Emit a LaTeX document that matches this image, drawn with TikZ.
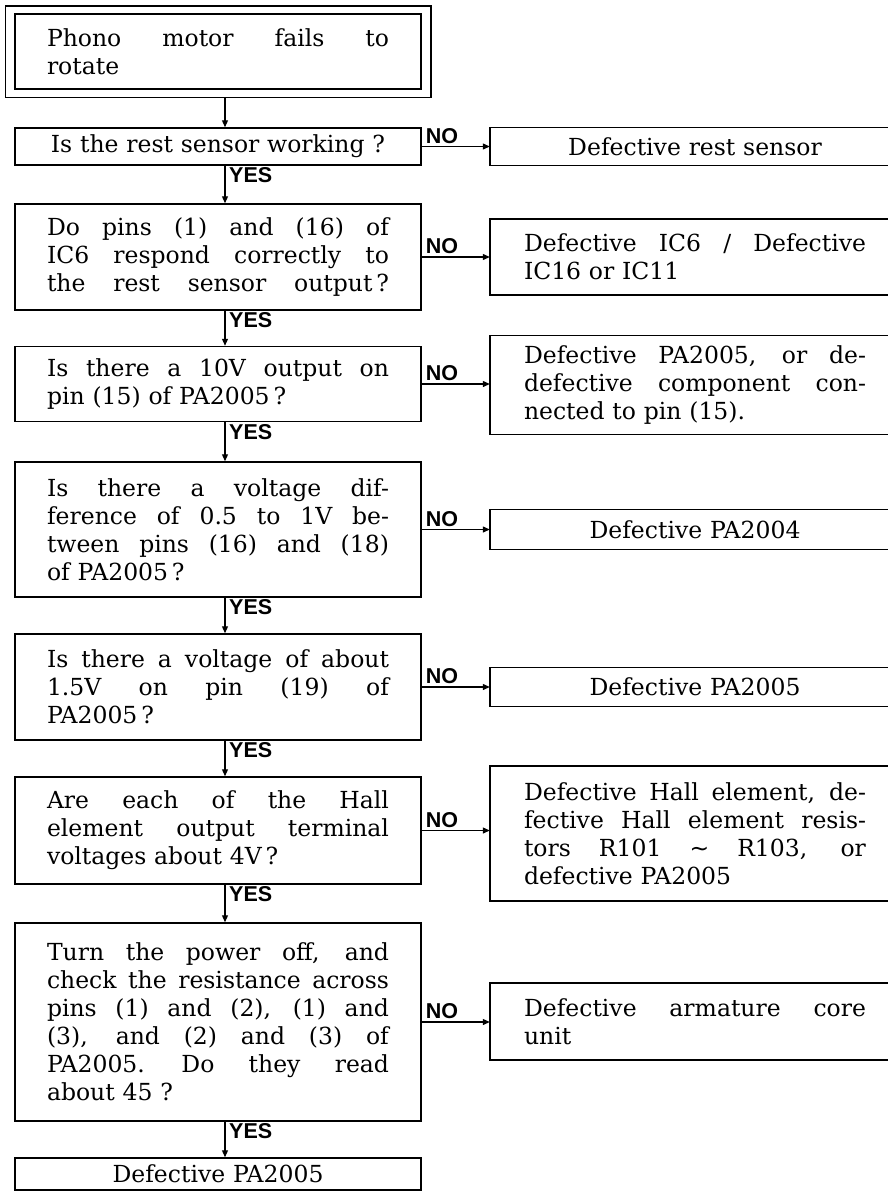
\documentclass[tikz,border=0pt]{standalone}
\usepackage{fontspec}
\setmainfont{DejaVu Serif}
\newfontfamily\labfont{Liberation Sans}
\newfontfamily\symfont{DejaVu Sans}
\usetikzlibrary{arrows.meta,fit}
\newlength\tw
\setlength\tw{342pt}
\newcommand\jl[1]{\leavevmode\hbox to\tw{\spaceskip=0.3em plus 1fil\xspaceskip=0.4em plus 1fil\relax #1}}
\newcommand\rframe[1]{\draw[rline] (#1.north -| rx) -- (#1.north west) -- (#1.south west) -- (#1.south -| rx);}
\begin{document}
\begin{tikzpicture}[x=1pt,y=-1pt,
  txt/.style={inner sep=0pt, text width=342pt, font=\fontsize{23.5}{28}\selectfont},
  box/.style={txt, draw, line width=1.5pt, minimum width=406pt, align=left},
  cbox/.style={box, align=center},
  rbox/.style={txt, minimum width=410pt, align=left},
  rcbox/.style={rbox, align=center},
  rline/.style={line width=1.5pt},
  arr/.style={line width=1.2pt, -{Triangle[length=7pt,width=6pt]}},
  lab/.style={font=\labfont\bfseries\fontsize{21.5}{22}\selectfont, inner sep=0pt},
]
\fill[white] (0,0) rectangle (888,1195);
\useasboundingbox (0,0) rectangle (888,1195);
\coordinate (ax) at (225,0);
\coordinate (rx) at (888,0);

% top box
\node[box, minimum height=75pt] (b1) at (218,51.5) {\jl{Phono motor fails to}\\rotate};
\node[draw, line width=1.5pt, fit=(b1), inner xsep=9pt, inner ysep=7.5pt] (b1o) {};

% row 2
\node[cbox, minimum height=37pt] (b2) at (218,146.5) {Is the rest sensor working ?};
\node[rcbox, minimum height=38pt] (r2) at (695,146.5) {Defective rest sensor};
\rframe{r2}

% row 3
\node[box, minimum height=106pt] (b3) at (218,257) {\jl{Do pins (1) and (16) of}\\\jl{IC6 respond correctly to}\\\jl{the rest sensor output\,?}};
\node[rbox, minimum height=76pt] (r3) at (695,257) {\jl{Defective IC6 / Defective}\\IC16 or IC11};
\rframe{r3}

% row 4
\node[box, minimum height=75pt] (b4) at (218,384) {\jl{Is there a 10V output on}\\pin (15) of PA2005\,?};
\node[rbox, minimum height=99pt] (r4) at (695,385) {\jl{Defective PA2005, or de-}\\\jl{defective component con-}\\nected to pin (15).};
\rframe{r4}

% row 5
\node[box, minimum height=135pt] (b5) at (218,529.5) {\jl{Is there a voltage dif-}\\\jl{ference of 0.5 to 1V be-}\\\jl{tween pins (16) and (18)}\\of PA2005\,?};
\node[rcbox, minimum height=40pt] (r5) at (695,529.5) {Defective PA2004};
\rframe{r5}

% row 6
\node[box, minimum height=106pt] (b6) at (218,687) {\jl{Is there a voltage of about}\\\jl{1.5V on pin (19) of}\\PA2005\,?};
\node[rcbox, minimum height=39pt] (r6) at (695,687) {Defective PA2005};
\rframe{r6}

% row 7
\node[box, minimum height=107pt] (b7) at (218,830.5) {\jl{Are each of the Hall}\\\jl{element output terminal}\\voltages about 4V\,?};
\node[rbox, minimum height=135pt] (r7) at (695,833.5) {\jl{Defective Hall element, de-}\\\jl{fective Hall element resis-}\\\jl{tors R101 {\symfont ∼} R103, or}\\defective PA2005};
\rframe{r7}

% row 8
\node[box, minimum height=198pt] (b8) at (218,1022) {\jl{Turn the power off, and}\\\jl{check the resistance across}\\\jl{pins (1) and (2), (1) and}\\\jl{(3), and (2) and (3) of}\\\jl{PA2005. Do they read}\\about 45 ?};
\node[rbox, minimum height=77pt] (r8) at (695,1021.5) {\jl{Defective armature core}\\unit};
\rframe{r8}

% row 9
\node[cbox, minimum height=32pt] (b9) at (218,1174) {Defective PA2005};

% vertical YES arrows
\draw[arr] (b1o.south -| ax) -- (b2.north -| ax);
\foreach \a/\b in {b2/b3,b3/b4,b4/b5,b5/b6,b6/b7,b7/b8,b8/b9}{
  \draw[arr] (\a.south -| ax) -- (\b.north -| ax);
  \node[lab, anchor=north west] (y\a) at ([xshift=4pt,yshift=-2pt]\a.south -| ax) {YES};
}
% horizontal NO arrows
\foreach \a/\b in {b2/r2,b3/r3,b4/r4,b5/r5,b6/r6,b7/r7,b8/r8}{
  \draw[arr] (\a.east) -- (\a.east -| \b.west);
  \node[lab, anchor=south west] (n\a) at ([xshift=4pt,yshift=3pt]\a.east) {NO};
}
\end{tikzpicture}
\end{document}
